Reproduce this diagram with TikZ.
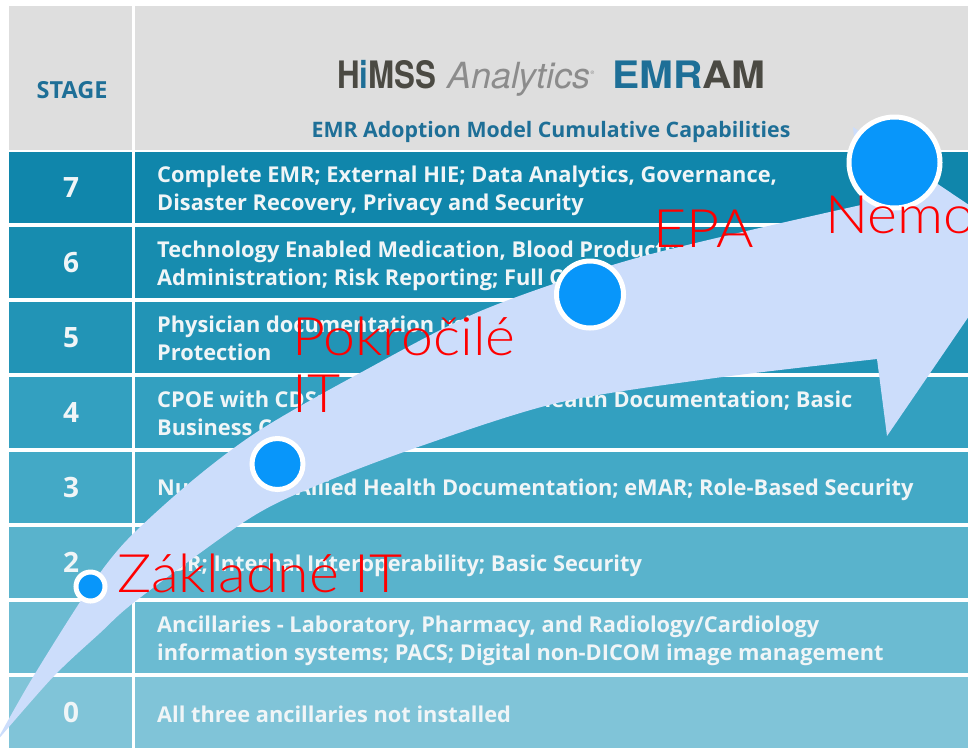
\documentclass[tikz,border=0pt]{standalone}
\usepackage{fontspec}
\setmainfont{Open Sans}
\newfontfamily\logofont{TeX Gyre Heros}
\IfFontExistsTF{Lato Light}{\newfontfamily\labelfont[FakeStretch=1.08]{Lato Light}}{\newfontfamily\labelfont[FakeStretch=1.08]{Lato}}
\usetikzlibrary{positioning}

\definecolor{headgray}{HTML}{DEDEDE}
\definecolor{emrblue}{HTML}{1E6F97}
\definecolor{logogray}{HTML}{4B4A43}
\definecolor{anagray}{HTML}{8C8C8C}
\definecolor{rowsev}{HTML}{1086AB}
\definecolor{rowsix}{HTML}{178CAF}
\definecolor{rowfive}{HTML}{2294B6}
\definecolor{rowfour}{HTML}{33A0C0}
\definecolor{rowthree}{HTML}{43A9C6}
\definecolor{rowtwo}{HTML}{59B3CC}
\definecolor{rowone}{HTML}{6BBBD2}
\definecolor{rowzero}{HTML}{80C4D8}
\definecolor{rowwhite}{HTML}{F0F5F7}
\definecolor{arrowblue}{HTML}{CCDDFB}
\definecolor{dotblue}{HTML}{0896FA}
\definecolor{labelred}{HTML}{FF0000}

\begin{document}
\begin{tikzpicture}[x=1pt,y=-1pt,
		stagenum/.style={font=\bfseries\fontsize{28}{28}\selectfont,text=rowwhite,anchor=base,inner sep=0pt},
		rowtext/.style={font=\bfseries\fontsize{21.8}{28}\selectfont,text=rowwhite,anchor=base west,inner sep=0pt},
		dot/.style={circle,draw=white,line width=5pt,fill=dotblue,inner sep=0pt,outer sep=0pt},
		steplabel/.style={font=\labelfont\fontsize{53}{57}\selectfont,text=labelred,anchor=base west,inner sep=0pt}]
	\useasboundingbox (0,0) rectangle (968,748);
	\fill[white] (0,0) rectangle (968,748);
	\fill[headgray] (9,6) rectangle (968,150);
	\fill[rowsev] (9,152) rectangle (968,223);
	\fill[rowsix] (9,227) rectangle (968,298);
	\fill[rowfive] (9,302) rectangle (968,373);
	\fill[rowfour] (9,377) rectangle (968,448);
	\fill[rowthree] (9,452) rectangle (968,523);
	\fill[rowtwo] (9,527) rectangle (968,598);
	\fill[rowone] (9,602) rectangle (968,673);
	\fill[rowzero] (9,677) rectangle (968,748);
	\draw[white,line width=3.5pt] (133.5,6) -- (133.5,748);

	\node[font=\bfseries\fontsize{23.5}{23.5}\selectfont,text=emrblue,anchor=base,inner sep=0pt] (stage) at (72,98) {STAGE};
	\node[font=\logofont\bfseries\fontsize{36}{36}\selectfont,text=logogray,anchor=base west,inner sep=0pt] (himss) at (337,88) {\scalebox{0.87}[1.05]{H\textcolor{emrblue}{i}MSS}};
	\node[font=\logofont\itshape\fontsize{36}{36}\selectfont,text=anagray,anchor=base west,inner sep=0pt] (analytics) at (447,88) {Analytics\raisebox{14pt}{\fontsize{5}{5}\selectfont\textregistered}};
	\node[font=\logofont\bfseries\fontsize{36}{36}\selectfont,text=logogray,anchor=base west,inner sep=0pt] (emram) at (612,88) {\scalebox{1.13}[1.05]{\textcolor{emrblue}{EMR}AM}};
	\node[font=\bfseries\fontsize{21.3}{21.3}\selectfont,text=emrblue,anchor=base,inner sep=0pt] (subtitle) at (551,137) {EMR Adoption Model Cumulative Capabilities};

	\node[stagenum] (s7) at (71,197.5) {7};
	\node[stagenum] (s6) at (71,272.5) {6};
	\node[stagenum] (s5) at (71,347.5) {5};
	\node[stagenum] (s4) at (71,422.5) {4};
	\node[stagenum] (s3) at (71,497.5) {3};
	\node[stagenum] (s2) at (71,572.5) {2};
	\node[stagenum] (s0) at (71,722.5) {0};

	\node[rowtext] (t7a) at (157,182) {Complete EMR; External HIE; Data Analytics, Governance,};
	\node[rowtext] (t7b) at (157,210) {Disaster Recovery, Privacy and Security};
	\node[rowtext] (t6a) at (157,257) {Technology Enabled Medication, Blood Products,};
	\node[rowtext] (t6b) at (157,285) {Administration; Risk Reporting; Full CDS};
	\node[rowtext] (t5a) at (157,332) {Physician documentation using structured templates; Intrusion/Device};
	\node[rowtext] (t5b) at (157,360) {Protection};
	\node[rowtext] (t4a) at (157,407) {CPOE with CDS; Nursing and Allied Health Documentation; Basic};
	\node[rowtext] (t4b) at (157,435) {Business Continuity};
	\node[rowtext] (t3) at (157,495) {Nursing and Allied Health Documentation; eMAR; Role-Based Security};
	\node[rowtext] (t2) at (157,571) {CDR; Internal Interoperability; Basic Security};
	\node[rowtext] (t1a) at (157,632) {Ancillaries - Laboratory, Pharmacy, and Radiology/Cardiology};
	\node[rowtext] (t1b) at (157,660) {information systems; PACS; Digital non-DICOM image management};
	\node[rowtext] (t0) at (157,722) {All three ancillaries not installed};

	\fill[arrowblue] (-4,742) -- plot[smooth] coordinates {(-4,742) (33,677) (88,590) (127,540) (193,480) (260,430) (360,373) (483,310) (640,257) (861,205)}
		-- (853,127) -- (1021,240) -- (887,436) -- (877,359)
		-- plot[smooth] coordinates {(877,359) (715,378) (557,403) (418,447) (313,487) (247,520) (137,600) (100,633) (53,677) (-4,742)} -- cycle;

	\node[dot,minimum size=29] (c1) at (90.5,586.5) {};
	\node[dot,minimum size=51] (c2) at (277.5,464) {};
	\node[dot,minimum size=67] (c3) at (590,294.5) {};
	\node[dot,minimum size=91] (c4) at (894.5,162.5) {};

	\node[steplabel] (l1) at (117,592) {Základné IT};
	\node[steplabel] (l2) at (292,355) {Pokročilé};
	\node[steplabel] (l2b) at (292,412) {IT};
	\node[steplabel] (l3) at (653,247) {EPA};
	\node[steplabel] (l4) at (825,233) {Nemo};
\end{tikzpicture}
\end{document}
